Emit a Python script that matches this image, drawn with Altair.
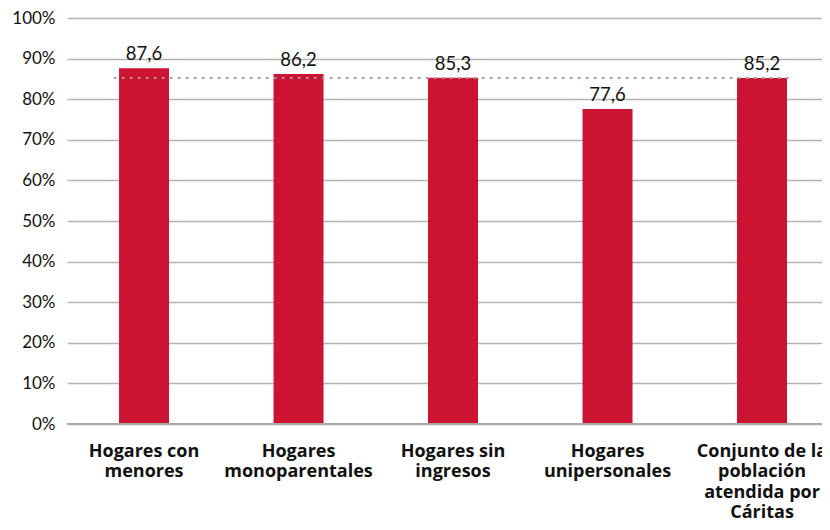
import altair as alt
import pandas as pd

categories = [
    "Hogares con|menores",
    "Hogares|monoparentales",
    "Hogares sin|ingresos",
    "Hogares|unipersonales",
    "Conjunto de la|población|atendida por|Cáritas",
]
values = [87.6, 86.2, 85.3, 77.6, 85.2]
value_labels = ["87,6", "86,2", "85,3", "77,6", "85,2"]
reference_value = 85.2
y_ticks = [0, 10, 20, 30, 40, 50, 60, 70, 80, 90, 100]

df = pd.DataFrame({"cat": categories, "val": values, "lab": value_labels})

FONT = "Lato"
W_VIEW = 755

x_enc = alt.X(
    "cat:N",
    sort=None,
    scale=alt.Scale(paddingInner=0.6764, paddingOuter=0.2816, align=0.598),
    axis=alt.Axis(
        title=None,
        labelAngle=0,
        labelExpr="split(datum.label, '|')",
        labelFont="Open Sans",
        labelFontSize=18,
        labelFontWeight="bold",
        labelColor="#111111",
        labelLineHeight=20.5,
        labelBaseline="top",
        labelPadding=18,
        labelLimit=300,
        ticks=False,
        domain=False,
        grid=False,
    ),
)

y_scale = alt.Scale(domain=[0, 100], nice=False)

bars = alt.Chart(df).mark_bar(color="#CC1331").encode(
    x=x_enc,
    y=alt.Y(
        "val:Q",
        scale=y_scale,
        axis=alt.Axis(
            title=None,
            values=y_ticks,
            labelExpr="datum.value + '%'",
            labelFont=FONT,
            labelFontSize=17,
            labelColor="#111111",
            labelPadding=12,
            ticks=False,
            domain=False,
            grid=True,
            gridColor="#b4b4b4",
            gridWidth=1.3,
        ),
    ),
)

text = alt.Chart(df).mark_text(
    baseline="bottom", dy=-4, font=FONT, fontSize=18.5, color="#111111"
).encode(x=alt.X("cat:N", sort=None), y=alt.Y("val:Q", scale=y_scale), text="lab:N")

zero = alt.Chart(pd.DataFrame({"y": [0]})).mark_rule(color="#a8a8a8", strokeWidth=2).encode(
    y=alt.Y("y:Q", scale=y_scale), x=alt.value(0), x2=alt.value(W_VIEW)
)

ref = alt.Chart(pd.DataFrame({"y": [reference_value]})).mark_rule(
    color="#a0a0a0", strokeWidth=2, strokeDash=[2.5, 5.5]
).encode(y=alt.Y("y:Q", scale=y_scale), x=alt.value(47), x2=alt.value(727))

chart = (
    alt.layer(bars, zero, ref, text)
    .properties(
        width=W_VIEW,
        height=406,
        autosize=alt.AutoSizeParams(type="none"),
        padding={"left": 59, "top": 10, "right": 0, "bottom": 96},
        background="white",
    )
    .configure_view(stroke=None)
)

chart.save("out.html", embed_options={"renderer": "svg", "actions": False})
